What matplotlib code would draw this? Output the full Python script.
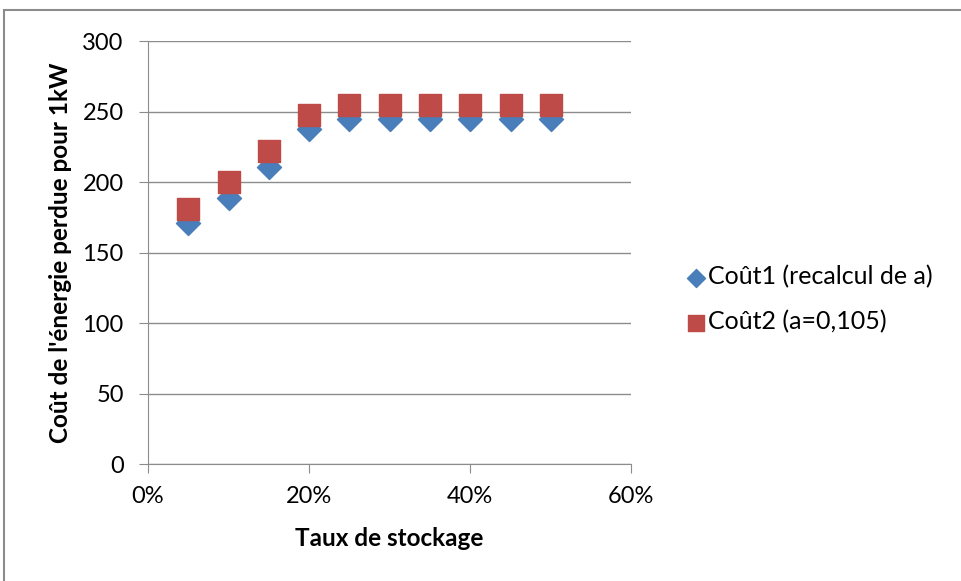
import matplotlib
matplotlib.use('Agg')
from matplotlib import pyplot as plt
from matplotlib.patches import Rectangle
from matplotlib.ticker import PercentFormatter

# données
taux = [0.05, 0.10, 0.15, 0.20, 0.25, 0.30, 0.35, 0.40, 0.45, 0.50]
cout1 = [171, 189, 211, 238, 245, 245, 245, 245, 245, 245]
cout2 = [181, 200, 222, 248, 255, 255, 255, 255, 255, 255]

plt.rcParams['font.family'] = ['Lato', 'DejaVu Sans']

fig = plt.figure(figsize=(9.61, 5.81), dpi=100)
ax = fig.add_axes([0.154, 0.201, 0.503, 0.728])

ax.scatter(taux, cout1, marker='D', s=150, color='#4a7ebb', label='Coût1 (recalcul de a)', zorder=3)
ax.scatter(taux, cout2, marker='s', s=245, color='#be4b48', label='Coût2 (a=0,105)', zorder=4)

ax.set_xlim(0, 0.6)
ax.set_ylim(0, 300)
ax.set_xticks([0, 0.2, 0.4, 0.6])
ax.set_yticks(range(0, 301, 50))
ax.xaxis.set_major_formatter(PercentFormatter(1.0, decimals=0))
ax.grid(axis='y', color='#8c8c8c', linewidth=1)
ax.set_axisbelow(True)
for s in ['top', 'right']:
    ax.spines[s].set_visible(False)
for s in ['left', 'bottom']:
    ax.spines[s].set_color('#8c8c8c')
ax.tick_params(axis='both', colors='#8c8c8c', labelcolor='black', labelsize=17, length=6.5)
ax.tick_params(axis='y', pad=11)
ax.tick_params(axis='x', pad=9)

ax.set_xlabel('Taux de stockage', fontsize=17.5, fontweight='bold')
ax.set_ylabel("Coût de l'énergie perdue pour 1kW", fontsize=17.5, fontweight='bold')
ax.xaxis.set_label_coords(0.5, -0.148)
ax.yaxis.set_label_coords(-0.158, 0.5)

ax.legend(loc='center left', bbox_to_anchor=(1.11, 0.39), frameon=False, fontsize=18,
          handletextpad=0.05, handlelength=0.9, labelspacing=0.85, markerscale=0.75,
          borderaxespad=0, borderpad=0)

# cadre du graphique
fig.patches.append(Rectangle((0.004, -0.05), 1.1, 1.033, transform=fig.transFigure,
                             fill=False, edgecolor='#8c8c8c', linewidth=1.5))

plt.savefig('out.png', dpi=100)
